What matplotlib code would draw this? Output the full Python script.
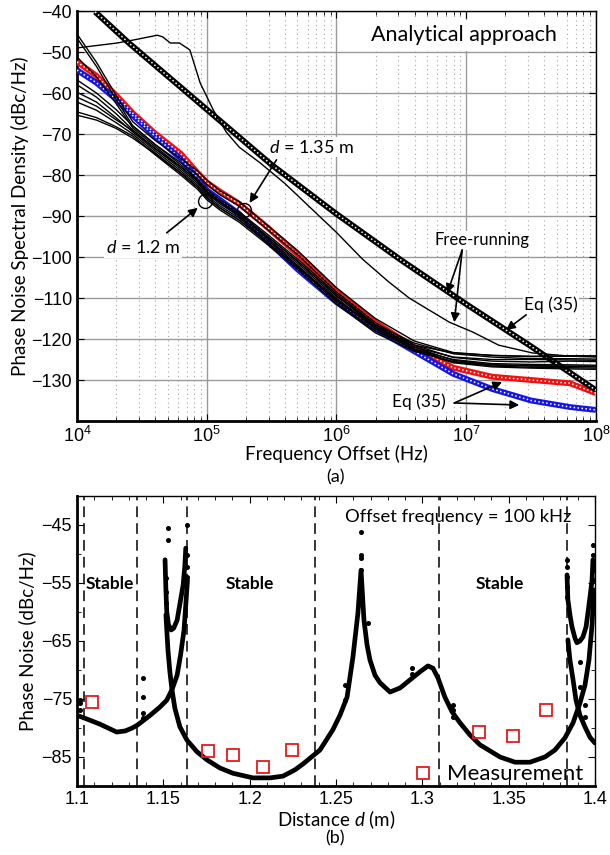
import numpy as np
import matplotlib
matplotlib.use("Agg")
import matplotlib.pyplot as plt
from matplotlib.ticker import LogFormatterMathtext, MultipleLocator, FixedLocator

plt.rcParams["font.family"] = ["Lato", "DejaVu Sans"]
plt.rcParams["mathtext.fontset"] = "custom"
plt.rcParams["mathtext.rm"] = "Liberation Sans"
plt.rcParams["mathtext.it"] = "Lato:italic"

# ---------------- (a) phase noise spectra ----------------
# offsets as log10(Hz)
grid_log = [4.0, 4.15, 4.3, 4.43, 4.6, 4.8, 4.93, 5.0, 5.1, 5.25,
            5.45, 5.7, 6.0, 6.3, 6.6, 6.9, 7.2, 7.5, 7.8, 8.0]

eq35_red = [-52.4, -55.8, -60.5, -64.9, -69.8, -74.8, -79.5, -81.8, -84.0, -87.0,
            -92.3, -99.3, -108.5, -116.0, -122.0, -127.0, -129.2, -130.0, -130.8, -133.2]
eq35_blue = [-54.4, -57.5, -61.5, -65.5, -70.5, -76.0, -80.8, -83.7, -86.0, -89.5,
             -95.5, -103.0, -111.0, -117.5, -123.0, -128.5, -132.2, -135.0, -136.6, -137.3]

measured = [
    [-45.6, -52.5, -60.5, -67.0, -71.5, -76.0, -79.0, -81.2, -83.8, -86.5,
     -91.8, -98.4, -107.5, -115.0, -120.5, -123.3, -124.0, -124.3, -124.2, -124.4],
    [-46.6, -53.5, -61.5, -68.0, -72.5, -77.0, -80.0, -82.3, -84.8, -87.6,
     -92.8, -99.4, -108.5, -116.0, -121.5, -124.5, -125.4, -125.6, -125.4, -125.5],
    [-51.2, -56.0, -62.5, -68.5, -73.0, -78.0, -81.5, -84.0, -86.5, -89.5,
     -94.5, -101.0, -109.5, -117.0, -122.5, -125.6, -126.6, -126.9, -127.0, -127.1],
    [-56.8, -60.0, -64.0, -68.0, -72.5, -77.5, -81.0, -83.5, -86.0, -89.0,
     -94.0, -100.5, -109.0, -116.5, -122.0, -125.2, -126.3, -126.6, -126.7, -126.8],
    [-58.0, -61.0, -65.0, -69.0, -73.5, -78.5, -82.0, -84.5, -87.0, -90.0,
     -95.0, -101.5, -110.0, -117.5, -122.8, -125.8, -126.8, -127.1, -127.3, -127.4],
    [-59.8, -62.2, -66.0, -69.5, -74.0, -79.0, -82.5, -85.0, -87.5, -90.5,
     -95.5, -102.0, -110.5, -117.0, -121.5, -123.4, -124.0, -124.2, -124.1, -124.2],
    [-61.0, -63.2, -66.5, -69.2, -73.5, -78.0, -81.5, -84.0, -86.5, -89.5,
     -94.5, -101.0, -109.5, -116.5, -121.0, -123.6, -124.4, -124.8, -124.8, -124.9],
    [-62.2, -64.2, -67.2, -70.0, -74.5, -79.5, -83.0, -85.5, -88.0, -91.0,
     -96.0, -102.5, -111.0, -118.0, -122.5, -125.0, -126.0, -126.2, -126.3, -126.4],
    [-64.6, -66.0, -68.2, -70.5, -75.0, -80.0, -83.5, -86.0, -88.5, -91.5,
     -96.5, -103.0, -111.5, -118.5, -123.0, -125.5, -126.3, -126.5, -126.6, -126.6],
    [-65.4, -66.6, -68.6, -71.0, -74.8, -79.5, -83.0, -85.5, -88.0, -91.0,
     -96.0, -102.5, -110.5, -117.5, -122.0, -124.4, -125.0, -125.0, -125.1, -125.2],
]

free_meas_log = [4.0, 4.31, 4.43, 4.62, 4.66, 4.72, 4.79, 4.87, 4.95, 5.05, 5.15, 5.25,
                 5.41, 5.6, 5.8, 6.0, 6.2, 6.4, 6.56, 6.87, 7.05, 7.25, 7.51, 7.77, 8.0]
free_meas_db = [-49.0, -47.8, -47.1, -45.9, -46.3, -47.8, -47.8, -49.5, -57.6, -64.1, -69.5, -73.2,
                -77.0, -82.0, -88.0, -94.0, -100.5, -106.0, -110.0, -115.9, -118.3, -121.5,
                -123.4, -124.1, -124.1]

free_eq35_log = [4.14, 4.4, 4.8, 5.0, 5.5, 6.0, 6.5, 7.0, 7.5, 8.0]
free_eq35_db = [-40.2, -47.8, -58.6, -64.0, -77.5, -89.5, -100.8, -111.5, -121.8, -132.5]

# ---------------- (b) phase noise at 100 kHz vs distance ----------------
branch_a_d = [1.100, 1.107, 1.113, 1.118, 1.123, 1.128, 1.132, 1.135, 1.142, 1.148,
              1.152, 1.155, 1.158, 1.160, 1.162, 1.163, 1.164]
branch_a_pn = [-77.8, -78.6, -79.3, -80.0, -80.7, -80.5, -80.0, -79.5, -77.9, -76.4,
               -75.2, -73.4, -70.9, -67.4, -63.1, -58.8, -54.5]

branch_b_d = [1.151, 1.1515, 1.152, 1.153, 1.1545, 1.156, 1.158, 1.1595, 1.1615, 1.1625, 1.163]
branch_b_pn = [-51.0, -56.2, -60.0, -62.2, -63.1, -62.8, -61.4, -58.8, -55.3, -51.9, -49.0]

branch_c_d = [1.1515, 1.1527, 1.1538, 1.1550, 1.1567, 1.1596, 1.1637, 1.1695, 1.1753, 1.1828,
              1.1903, 1.2019, 1.2118, 1.2193, 1.2263, 1.2309, 1.2407, 1.2482, 1.2523, 1.2564,
              1.2598, 1.2627, 1.2645, 1.2662, 1.2680, 1.2697, 1.2726, 1.2755, 1.2813, 1.2871,
              1.2929, 1.2987, 1.3033, 1.3062, 1.3091, 1.3131, 1.3172, 1.3218, 1.3276, 1.3334,
              1.3450, 1.3537, 1.3623, 1.3710, 1.3768, 1.3826, 1.3873, 1.3913, 1.3942, 1.3965,
              1.3983, 1.3994]
branch_c_pn = [-60.5, -66.6, -70.3, -73.4, -76.6, -79.8, -82.1, -84.1, -85.5, -86.9,
               -87.8, -88.6, -88.6, -88.3, -87.2, -86.2, -83.8, -80.3, -77.8, -74.7,
               -67.8, -60.2, -52.8, -61.4, -65.7, -68.3, -70.9, -72.2, -73.8, -73.1,
               -71.7, -70.3, -69.3, -69.7, -71.4, -74.7, -77.2, -79.1, -81.2, -82.9,
               -85.0, -85.9, -85.9, -85.0, -83.8, -81.7, -79.1, -75.7, -72.6, -68.3,
               -62.2, -56.2]

branch_d_d = [1.3838, 1.3843, 1.3855, 1.3867, 1.3884, 1.3895, 1.3913, 1.3930, 1.3948,
              1.3959, 1.3971, 1.3983, 1.3988]
branch_d_pn = [-53.6, -57.9, -60.5, -62.6, -64.5, -65.3, -65.0, -64.3, -62.6,
               -60.2, -57.4, -54.5, -51.0]

branch_e_d = [1.3843, 1.3855, 1.3873, 1.3890, 1.3913, 1.3942, 1.3971, 1.4000]
branch_e_pn = [-64.8, -68.3, -71.7, -75.2, -77.8, -79.8, -81.6, -82.6]

# isolated solver points near the resonances
spike_d = [1.1017, 1.1017, 1.1017, 1.1382, 1.1382, 1.1382, 1.1382,
           1.1527, 1.1527, 1.1515, 1.1515, 1.1515, 1.1637, 1.1637, 1.1637, 1.1637,
           1.2552, 1.2552, 1.2645, 1.2645, 1.2645, 1.2645, 1.2645, 1.2645, 1.2645,
           1.2685, 1.2940, 1.2940, 1.3178, 1.3178, 1.3178,
           1.3838, 1.3838, 1.3838, 1.3838, 1.3838, 1.3913, 1.3913, 1.3942, 1.3942,
           1.3988, 1.3988, 1.3988, 1.3988]
spike_pn = [-75.2, -75.7, -76.9, -71.4, -74.7, -77.4, -78.3,
            -45.5, -47.6, -54.1, -56.6, -58.4, -45.0, -50.2, -52.2, -54.0,
            -72.6, -75.2, -46.2, -50.2, -50.7, -52.8, -54.8, -55.7, -57.1,
            -61.9, -69.7, -70.7, -76.0, -76.9, -78.1,
            -51.0, -52.2, -54.0, -55.7, -57.4, -68.6, -72.9, -76.0, -78.1,
            -48.4, -50.2, -52.8, -54.5]

meas_d = [1.1087, 1.1759, 1.1903, 1.2077, 1.2245, 1.3328, 1.3525, 1.3716]
meas_pn = [-75.5, -84.0, -84.7, -86.7, -83.8, -80.7, -81.4, -76.9]

stability_bounds = [1.1041, 1.1347, 1.1637, 1.2378, 1.3097, 1.3838]

fig = plt.figure(figsize=(6.1, 8.55), dpi=100)

# ---------- panel (a) ----------
ax1 = fig.add_axes([0.1262, 0.5076, 0.8508, 0.4795])
ax1.set_xscale("log")
ax1.set_xlim(1e4, 1e8)
ax1.set_ylim(-140, -40)
ax1.set_yticks(np.arange(-130, -39, 10))
ax1.xaxis.set_major_locator(FixedLocator([1e4, 1e5, 1e6, 1e7, 1e8]))
ax1.xaxis.set_major_formatter(LogFormatterMathtext())
ax1.grid(which="major", color="#9a9a9a", lw=1.0, ls="-")
ax1.grid(which="minor", axis="x", color="#a6a6a6", lw=0.8, ls=(0, (1, 3.0)))
ax1.set_axisbelow(True)

f_grid = 10 ** np.array(grid_log)


def circle_trace(ax, f, db, color):
    # thick coloured band with a white dotted core, reads as a chain of open circles
    ax.plot(f, db, color=color, lw=4.2, solid_capstyle="butt", zorder=3)
    ax.plot(f, db, color="white", lw=1.1, ls=(0, (1, 1.6)), zorder=3.1)


circle_trace(ax1, f_grid, eq35_red, "#f01010")
circle_trace(ax1, f_grid, eq35_blue, "#1515e0")
for trace in measured:
    ax1.plot(f_grid, trace, color="black", lw=1.0, zorder=4)
ax1.plot(10 ** np.array(free_meas_log), free_meas_db, color="black", lw=1.0, zorder=4)
circle_trace(ax1, 10 ** np.array(free_eq35_log), free_eq35_db, "black")

# marked distances
ax1.plot([9.66e4, 1.93e5], [-86.3, -88.5], "o", ms=10, mfc="none", mec="black", mew=1.0, zorder=5)

arrow = dict(arrowstyle="-|>", color="black", lw=1.2, mutation_scale=13, shrinkA=0, shrinkB=0)
ax1.text(6.43e5, -73.2, r"$d$ = 1.35 m", fontsize=13, ha="center", va="center", zorder=6,
         bbox=dict(fc="white", ec="none", pad=1))
ax1.annotate("", xy=(2.14e5, -86.8), xytext=(3.45e5, -76.3), arrowprops=arrow, zorder=6)
ax1.text(3.22e4, -97.8, r"$d$ = 1.2 m", fontsize=13, ha="center", va="center", zorder=6,
         bbox=dict(fc="white", ec="none", pad=1))
ax1.annotate("", xy=(8.53e4, -88.0), xytext=(4.92e4, -94.1), arrowprops=arrow, zorder=6)

ax1.text(9.66e6, -45.9, "Analytical approach", fontsize=15.5, ha="center", va="center", zorder=6,
         bbox=dict(fc="white", ec="none", pad=4))
ax1.text(1.33e7, -95.9, "Free-running", fontsize=12, ha="center", va="center", zorder=6,
         bbox=dict(fc="white", ec="none", pad=1))
ax1.annotate("", xy=(7.14e6, -108.8), xytext=(9.31e6, -98.3), arrowprops=arrow, zorder=6)
ax1.annotate("", xy=(8.09e6, -115.9), xytext=(9.31e6, -98.3), arrowprops=arrow, zorder=6)
ax1.text(4.51e7, -111.7, "Eq (35)", fontsize=12.5, ha="center", va="center", zorder=6,
         bbox=dict(fc="white", ec="none", pad=1))
ax1.annotate("", xy=(2.03e7, -117.8), xytext=(2.90e7, -114.1), arrowprops=arrow, zorder=6)
ax1.text(4.28e6, -135.4, "Eq (35)", fontsize=12.5, ha="center", va="center", zorder=6,
         bbox=dict(fc="white", ec="none", pad=1))
ax1.annotate("", xy=(1.89e7, -130.5), xytext=(8.09e6, -135.6), arrowprops=arrow, zorder=6)
ax1.annotate("", xy=(2.56e7, -136.1), xytext=(8.09e6, -135.6), arrowprops=arrow, zorder=6)

ax1.set_xlabel("Frequency Offset (Hz)", fontsize=13.5, labelpad=-1)
ax1.set_ylabel("Phase Noise Spectral Density (dBc/Hz)", fontsize=13.5, labelpad=2)

# ---------- panel (b) ----------
ax2 = fig.add_axes([0.1262, 0.0807, 0.8492, 0.3392])
ax2.set_xlim(1.1, 1.4)
ax2.set_ylim(-90, -40)
ax2.xaxis.set_major_locator(MultipleLocator(0.05))
ax2.xaxis.set_minor_locator(MultipleLocator(0.01))
ax2.set_yticks([-85, -75, -65, -55, -45])
ax2.yaxis.set_minor_locator(FixedLocator([-80, -70, -60, -50, -40]))
ax2.xaxis.set_major_formatter(plt.FuncFormatter(lambda v, p: f"{v:g}"))

for xb in stability_bounds:
    ax2.axvline(xb, color="black", lw=1.1, ls=(0, (7, 4)), zorder=1)

for bd, bp in [(branch_a_d, branch_a_pn), (branch_b_d, branch_b_pn), (branch_c_d, branch_c_pn),
               (branch_d_d, branch_d_pn), (branch_e_d, branch_e_pn)]:
    ax2.plot(bd, bp, color="black", lw=3.4, solid_joinstyle="round", solid_capstyle="round", zorder=3)
ax2.plot(spike_d, spike_pn, "o", color="black", ms=2.6, zorder=3)

ax2.plot(meas_d, meas_pn, "s", ms=8, mfc="none", mec="#e41a1c", mew=1.3, ls="none",
         label="Measurement", zorder=4)

for xs in [1.1190, 1.2000, 1.3450]:
    ax2.text(xs, -55.2, "Stable", fontsize=12.5, fontweight="bold", ha="center", va="center")
ax2.text(1.3210, -43.6, "Offset frequency = 100 kHz", fontsize=13.2, ha="center", va="center")
ax2.legend(loc="lower right", frameon=False, fontsize=16, handletextpad=0.6,
           borderaxespad=0.0, bbox_to_anchor=(0.995, -0.025), handlelength=1.0)

ax2.set_xlabel(r"Distance $d$ (m)", fontsize=13.5, labelpad=0)
ax2.set_ylabel("Phase Noise (dBc/Hz)", fontsize=13.5, labelpad=4)

for ax in (ax1, ax2):
    ax.tick_params(which="both", direction="in", top=True, right=True, labelsize=13,
                   labelfontfamily="Liberation Sans")
    ax.tick_params(which="major", length=5)
    ax.tick_params(which="minor", length=3)
    for side in ("left", "bottom"):
        ax.spines[side].set_linewidth(2.0)
    for side in ("top", "right"):
        ax.spines[side].set_linewidth(1.0)

fig.text(335 / 610, 1 - 477 / 855, "(a)", fontsize=13, ha="center", va="center")
fig.text(335 / 610, 1 - 838 / 855, "(b)", fontsize=13, ha="center", va="center")

fig.savefig("out.png", dpi=100)
